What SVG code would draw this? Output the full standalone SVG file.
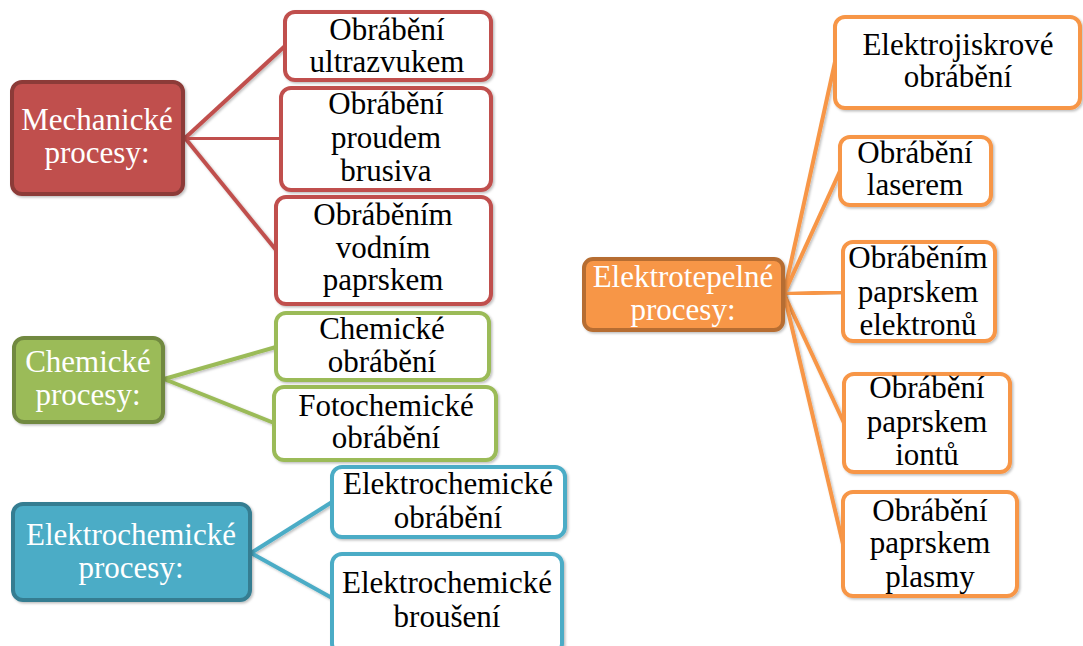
<svg xmlns="http://www.w3.org/2000/svg" width="1083" height="646" viewBox="0 0 1083 646">
<defs>
<filter id="sh" x="-10%" y="-10%" width="130%" height="130%">
<feDropShadow dx="1.5" dy="1.5" stdDeviation="1.2" flood-color="#000" flood-opacity="0.25"/>
</filter>
</defs>
<style>
text{font-size:31px;text-anchor:middle}
.p text{fill:#fff}
.c text{fill:#000}
rect{stroke-width:4}
.conn line{stroke-width:4;filter:url(#sh)}
.red .p rect{fill:#C0504D;stroke:#8C3A38}
.red .c rect{fill:#fff;stroke:#C0504D}
.red line{stroke:#C0504D}
.grn .p rect{fill:#9BBB59;stroke:#71893F}
.grn .c rect{fill:#fff;stroke:#9BBB59}
.grn line{stroke:#9BBB59}
.blu .p rect{fill:#4BACC6;stroke:#357D91}
.blu .c rect{fill:#fff;stroke:#4BACC6}
.blu line{stroke:#4BACC6}
.org .p rect{fill:#F79646;stroke:#B66D31}
.org .c rect{fill:#fff;stroke:#F79646}
.org line{stroke:#F79646}
.p rect,.c rect{filter:url(#sh)}
</style>
<rect width="1083" height="646" fill="#fff"/>
<g id="connectors">
<g class="conn red">
<line x1="185" y1="138" x2="285" y2="46"/>
<line x1="185" y1="138" x2="281" y2="139"/>
<line x1="185" y1="138" x2="276" y2="250"/>
</g>
<g class="conn grn">
<line x1="164" y1="379" x2="276" y2="347"/>
<line x1="164" y1="379" x2="274" y2="423"/>
</g>
<g class="conn blu">
<line x1="251" y1="553" x2="332" y2="502"/>
<line x1="251" y1="553" x2="332" y2="598"/>
</g>
<g class="conn org">
<line x1="784" y1="294" x2="835" y2="62"/>
<line x1="784" y1="294" x2="840" y2="171"/>
<line x1="784" y1="294" x2="843" y2="292"/>
<line x1="784" y1="294" x2="844" y2="423"/>
<line x1="784" y1="294" x2="843" y2="544"/>
</g>
</g>
<g font-family="'Liberation Serif', Tinos, 'Times New Roman', 'DejaVu Serif', serif">
<g class="red">
<g id="mechanicke" class="p"><rect x="12" y="82" width="171" height="112" rx="10"/><text x="97" y="130">Mechanické</text><text x="97" y="163">procesy:</text></g>
<g id="ultrazvuk" class="c"><rect x="285" y="12" width="206" height="68" rx="10"/><text x="387" y="40">Obrábění</text><text x="387" y="72">ultrazvukem</text></g>
<g id="brusivo" class="c"><rect x="281" y="88" width="210" height="102" rx="10"/><text x="386" y="114">Obrábění</text><text x="386" y="148">proudem</text><text x="386" y="181">brusiva</text></g>
<g id="vodni" class="c"><rect x="276" y="197" width="215" height="107" rx="10"/><text x="383" y="225">Obráběním</text><text x="383" y="258">vodním</text><text x="383" y="290">paprskem</text></g>
</g>
<g class="grn">
<g id="chemicke" class="p"><rect x="14" y="338" width="149" height="84" rx="10"/><text x="88" y="372">Chemické</text><text x="88" y="405">procesy:</text></g>
<g id="chem-obr" class="c"><rect x="276" y="313" width="213" height="67" rx="10"/><text x="382" y="339">Chemické</text><text x="382" y="372">obrábění</text></g>
<g id="fotochem" class="c"><rect x="274" y="387" width="222" height="73" rx="10"/><text x="386" y="416">Fotochemické</text><text x="386" y="448">obrábění</text></g>
</g>
<g class="blu">
<g id="elektrochem" class="p"><rect x="13" y="504" width="237" height="96" rx="10"/><text x="131" y="545">Elektrochemické</text><text x="131" y="578">procesy:</text></g>
<g id="ech-obr" class="c"><rect x="332" y="467" width="233" height="70" rx="10"/><text x="448" y="494">Elektrochemické</text><text x="448" y="528">obrábění</text></g>
<g id="ech-brous" class="c"><rect x="332" y="554" width="230" height="100" rx="10"/><text x="447" y="593">Elektrochemické</text><text x="447" y="627">broušení</text></g>
</g>
<g class="org">
<g id="elektrotep" class="p"><rect x="584" y="259" width="199" height="71" rx="9"/><text x="683" y="287">Elektrotepelné</text><text x="683" y="320">procesy:</text></g>
<g id="jiskrove" class="c"><rect x="835" y="17" width="245" height="91" rx="10"/><text x="958" y="55">Elektrojiskrové</text><text x="958" y="87">obrábění</text></g>
<g id="laser" class="c"><rect x="840" y="137" width="151" height="68" rx="10"/><text x="915" y="163">Obrábění</text><text x="915" y="195">laserem</text></g>
<g id="elektrony" class="c"><rect x="843" y="242" width="152" height="99" rx="10"/><text x="918" y="268">Obráběním</text><text x="918" y="302">paprskem</text><text x="918" y="335">elektronů</text></g>
<g id="ionty" class="c"><rect x="844" y="374" width="166" height="98" rx="10"/><text x="927" y="398">Obrábění</text><text x="927" y="432">paprskem</text><text x="927" y="465">iontů</text></g>
<g id="plasma" class="c"><rect x="843" y="492" width="174" height="104" rx="10"/><text x="930" y="521">Obrábění</text><text x="930" y="553">paprskem</text><text x="930" y="587">plasmy</text></g>
</g>
</g>
</svg>
